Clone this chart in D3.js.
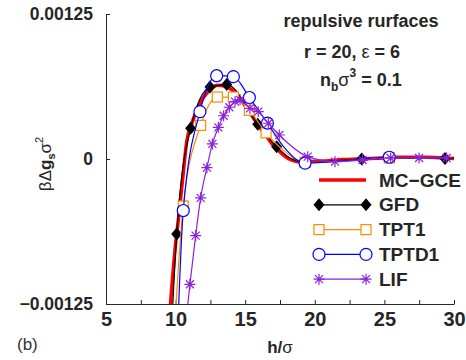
<!DOCTYPE html>
<html>
<head>
<meta charset="utf-8">
<script src="https://cdn.jsdelivr.net/npm/d3@7"></script>
<style>
  body { margin: 0; background: #fff; }
  svg { display: block; font-family: "Liberation Sans", Arial, sans-serif; }
</style>
</head>
<body>
<div id="chart"></div>
<script>
// Data (h/sigma, beta*dg*sigma^2)
var mcH  = [9.5, 10.0, 10.2, 10.5, 10.8, 11.2, 11.6, 12.0, 12.5, 13.0, 13.5, 14.0, 14.5, 15.0, 15.5, 16.0, 16.5, 17.0, 17.5, 18.0, 18.5, 19.0, 19.5, 20, 21, 22, 23, 24, 25, 26, 27, 28, 29, 30];
var mcV  = [-0.00146, -0.00073, -0.00052, -0.00018, 0.00015, 0.00032, 0.00044, 0.00053, 0.00060, 0.000635, 0.00063, 0.00060, 0.00054, 0.00046, 0.00037, 0.00028, 0.00020, 0.00012, 0.00006, 0.00001, -0.000015, -0.000025, -0.000025, -0.00002, -0.000015, -0.000005, 0, 0.000005, 0.00001, 0.000015, 0.000015, 0.000015, 0.00001, 0.000005];

var gfdH = [9.7, 10.08, 11.08, 12.47, 13.67, 15.9, 17.26, 18.5, 19.5, 21.0, 23.37, 26.0, 29.35, 30];
var gfdV = [-0.00149, -0.000647, 0.000265, 0.00062, 0.000642, 0.00030, 0.000105, -0.00001, -0.00003, -0.00002, 0, 0.000005, 0.000005, 0.000005];
var gfdMarks = [1, 2, 3, 4, 5, 6, 10, 12];

var tptH = [9.9, 10.55, 11.8, 13.0, 14.15, 15.3, 16.5, 17.8, 19.3, 21.0, 23.0, 25.35, 27.0, 29.5];
var tptV = [-0.0015, -0.000405, 0.00029, 0.000534, 0.000534, 0.00042, 0.000225, 0.00007, -0.00003, -0.000025, -0.000005, 0.00001, 0.00001, 0.000005];
var tptMarks = [1, 2, 3, 4, 5, 6, 8, 11];

var tpdH = [10.15, 10.55, 11.75, 12.95, 14.15, 15.3, 16.6, 17.8, 19.3, 21.0, 23.0, 25.35, 27.0, 29.5];
var tpdV = [-0.00148, -0.000444, 0.000408, 0.000718, 0.00071, 0.00053, 0.00031, 0.0001, -0.000035, -0.000025, -0.000005, 0.000015, 0.00001, 0.000005];
var tpdMarks = [1, 2, 3, 4, 5, 6, 8, 11];

var lifH = [10.7, 11.03, 11.44, 11.8, 12.25, 12.64, 13.07, 13.45, 13.86, 14.27, 14.63, 15.34, 15.94, 16.66, 17.45, 19.49, 21.45, 23.43, 25.45, 27.49, 29.47];
var lifV = [-0.00145, -0.00108, -0.00066, -0.000335, -0.000075, 0.00013, 0.000273, 0.000373, 0.000446, 0.000494, 0.00051, 0.000437, 0.000408, 0.000308, 0.000207, 0.00002, -0.000023, -0.000009, 0.000009, 0.000009, 0.000009];
var lifMarks = d3.range(1, lifH.length);

var xTicks = [5, 7.5, 10, 12.5, 15, 17.5, 20, 22.5, 25, 27.5, 30];
var xLabels = ["5", "10", "15", "20", "25", "30"];
var yTicks = [-0.00125, 0, 0.00125];
var yLabels = ["\u22120.00125", "0", "0.00125"];
var legendNames = ["MC\u2212GCE", "GFD", "TPT1", "TPTD1", "LIF"];

// Chart dimensions
var width = 466, height = 360;
var margin = {top: 14, right: 12, bottom: 56, left: 106};
var iw = width - margin.left - margin.right;
var ih = height - margin.top - margin.bottom;

var colors = {mc: "#ff0000", gfd: "#000000", tpt: "#ff8a00", tpd: "#0000ff", lif: "#8a22dc"};

var x = d3.scaleLinear().domain([5, 30]).range([0, iw]);
var y = d3.scaleLinear().domain([-0.00125, 0.00125]).range([ih, 0]);

var svg = d3.select("#chart").append("svg")
    .attr("width", width)
    .attr("height", height);

svg.append("defs").append("clipPath").attr("id", "clip")
  .append("rect").attr("width", iw).attr("height", ih);

var g = svg.append("g").attr("transform", "translate(" + margin.left + "," + margin.top + ")");

// Axes
var xAxis = d3.axisBottom(x)
    .tickValues(xTicks)
    .tickSize(-4)
    .tickSizeOuter(0)
    .tickPadding(8)
    .tickFormat(function(d) { return d % 5 === 0 ? xLabels[(d - 5) / 5] : ""; });

var yAxis = d3.axisLeft(y)
    .tickValues(yTicks)
    .tickSize(-4)
    .tickSizeOuter(0)
    .tickPadding(13)
    .tickFormat(function(d, i) { return yLabels[i]; });

var gx = g.append("g").attr("transform", "translate(0," + ih + ")").call(xAxis);
var gy = g.append("g").call(yAxis);

gx.selectAll("text").style("font-size", "20px").style("font-weight", "bold").attr("fill", "#262626");
gy.selectAll("text").style("font-size", "17.5px").style("font-weight", "bold").attr("fill", "#262626");
svg.selectAll(".domain, .tick line").attr("stroke", "#262626");

// Series
var plot = g.append("g").attr("clip-path", "url(#clip)");

var line = d3.line()
    .x(function(d) { return x(d[0]); })
    .y(function(d) { return y(d[1]); })
    .curve(d3.curveMonotoneX);

function pairs(hs, vs) {
  return hs.map(function(h, i) { return [h, vs[i]]; });
}

function drawMarker(sel, kind) {
  if (kind === "diamond") {
    sel.append("path").attr("d", "M0,-6.5L5.5,0L0,6.5L-5.5,0Z").attr("fill", colors.gfd);
  } else if (kind === "square") {
    sel.append("rect").attr("x", -5).attr("y", -5).attr("width", 10).attr("height", 10)
      .attr("fill", "#fff").attr("stroke", colors.tpt).attr("stroke-width", 1.2);
  } else if (kind === "circle") {
    sel.append("circle").attr("r", 6)
      .attr("fill", "#fff").attr("stroke", colors.tpd).attr("stroke-width", 1.2);
  } else if (kind === "star") {
    sel.append("path").attr("d", "M-5.5,0H5.5M0,-5.5V5.5M-4,-4L4,4M-4,4L4,-4")
      .attr("stroke", colors.lif).attr("stroke-width", 1.2);
  }
}

var series = [
  {h: gfdH, v: gfdV, marks: gfdMarks, color: colors.gfd, kind: "diamond"},
  {h: tptH, v: tptV, marks: tptMarks, color: colors.tpt, kind: "square"},
  {h: tpdH, v: tpdV, marks: tpdMarks, color: colors.tpd, kind: "circle"},
  {h: lifH, v: lifV, marks: lifMarks, color: colors.lif, kind: "star"}
];

plot.append("path")
    .datum(pairs(mcH, mcV))
    .attr("d", line)
    .attr("fill", "none")
    .attr("stroke", colors.mc)
    .attr("stroke-width", 3.5);

series.forEach(function(s) {
  var pts = pairs(s.h, s.v);
  plot.append("path")
      .datum(pts)
      .attr("d", line)
      .attr("fill", "none")
      .attr("stroke", s.color)
      .attr("stroke-width", 1.2);
  plot.append("g").selectAll("g")
      .data(s.marks.map(function(i) { return pts[i]; }))
      .enter().append("g")
      .attr("transform", function(d) { return "translate(" + x(d[0]) + "," + y(d[1]) + ")"; })
      .each(function() { drawMarker(d3.select(this), s.kind); });
});

// Legend
var leg = svg.append("g").attr("transform", "translate(319,180)");
var legKinds = [null, "diamond", "square", "circle", "star"];
var legColors = [colors.mc, colors.gfd, colors.tpt, colors.tpd, colors.lif];
legendNames.forEach(function(name, i) {
  var row = leg.append("g").attr("transform", "translate(0," + (i * 24.8) + ")");
  row.append("line").attr("x1", 0).attr("x2", 47)
    .attr("stroke", legColors[i]).attr("stroke-width", i === 0 ? 3.5 : 1.2);
  if (legKinds[i]) {
    drawMarker(row.append("g"), legKinds[i]);
    drawMarker(row.append("g").attr("transform", "translate(47,0)"), legKinds[i]);
  }
  row.append("text").attr("x", 60).attr("y", 6.5)
    .style("font-size", "19px").style("font-weight", "bold").attr("fill", "#262626")
    .text(name);
});

// Annotation
var ann = svg.append("g").attr("fill", "#262626").style("font-weight", "bold").style("font-size", "18px");
ann.append("text").attr("x", 361).attr("y", 27).attr("text-anchor", "middle").text("repulsive rurfaces");
var t2 = ann.append("text").attr("x", 352).attr("y", 58).attr("text-anchor", "middle");
t2.append("tspan").text("r = 20, ");
t2.append("tspan").style("font-weight", "normal").text("\u03b5");
t2.append("tspan").text(" = 6");
var t3 = ann.append("text").attr("x", 320).attr("y", 86);
t3.append("tspan").text("n");
t3.append("tspan").attr("dy", 5).style("font-size", "12px").text("b");
t3.append("tspan").attr("dy", -5).style("font-weight", "normal").text("\u03c3");
t3.append("tspan").attr("dy", -9).style("font-size", "12px").text("3");
t3.append("tspan").attr("dy", 9).text(" = 0.1");

// Axis labels
var yl = svg.append("text")
    .attr("transform", "translate(51,164) rotate(-90)")
    .attr("text-anchor", "middle")
    .attr("fill", "#262626")
    .style("font-size", "17px");
yl.append("tspan").text("\u03b2\u0394");
yl.append("tspan").style("font-weight", "bold").text("g");
yl.append("tspan").attr("dy", 4).style("font-size", "11px").style("font-weight", "bold").text("s");
yl.append("tspan").attr("dy", -4).text("\u03c3");
yl.append("tspan").attr("dy", -8).style("font-size", "11px").text("2");

var xl = svg.append("text")
    .attr("x", 280).attr("y", 353)
    .attr("text-anchor", "middle")
    .attr("fill", "#262626")
    .style("font-size", "17px");
xl.append("tspan").style("font-weight", "bold").text("h/");
xl.append("tspan").text("\u03c3");

svg.append("text").attr("x", 17).attr("y", 350)
    .attr("fill", "#333")
    .style("font-size", "17px")
    .text("(b)");
</script>
</body>
</html>
